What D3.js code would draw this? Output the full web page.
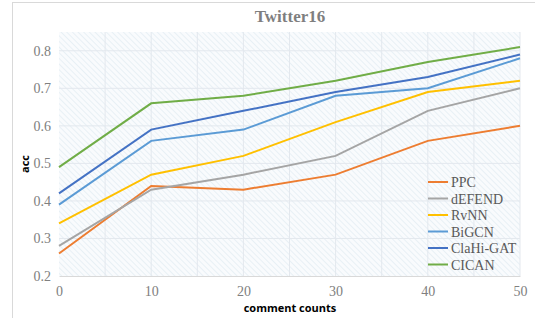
<!DOCTYPE html>
<html>
<head>
<meta charset="utf-8">
<script src="https://cdn.jsdelivr.net/npm/d3@7"></script>
<style>
  body { margin: 0; background: #fff; }
</style>
</head>
<body>
<div class="chartContainer"></div>
<script>
// comment counts on the x axis
const counts = [0, 10, 20, 30, 40, 50];
const ppc = [0.26, 0.44, 0.43, 0.47, 0.56, 0.60];
const defend = [0.28, 0.43, 0.47, 0.52, 0.64, 0.70];
const rvnn = [0.34, 0.47, 0.52, 0.61, 0.69, 0.72];
const bigcn = [0.39, 0.56, 0.59, 0.68, 0.70, 0.78];
const clahigat = [0.42, 0.59, 0.64, 0.69, 0.73, 0.79];
const cican = [0.49, 0.66, 0.68, 0.72, 0.77, 0.81];
const seriesNames = ["PPC", "dEFEND", "RvNN", "BiGCN", "ClaHi-GAT", "CICAN"];
const yTicks = [0.2, 0.3, 0.4, 0.5, 0.6, 0.7, 0.8];

function drawChart() {
  const w = 535,
    h = 318;

  const series = [ppc, defend, rvnn, bigcn, clahigat, cican];
  const colors = ["#ED7D31", "#A5A5A5", "#FFC000", "#5B9BD5", "#4472C4", "#70AD47"];

  const x = d3.scaleLinear().domain([0, 50]).range([59, 520]);
  const y = d3.scaleLinear().domain([0.2, 0.85]).range([276, 32]);

  const svg = d3.select(".chartContainer")
    .append("svg")
    .attr("width", w)
    .attr("height", h);

  // hatch pattern for plot background
  const pat = svg.append("defs").append("pattern")
    .attr("id", "hatch")
    .attr("patternUnits", "userSpaceOnUse")
    .attr("width", 4)
    .attr("height", 4)
    .attr("patternTransform", "rotate(-45)");
  pat.append("rect").attr("width", 4).attr("height", 4).attr("fill", "#f9fbfd");
  pat.append("line")
    .attr("x1", 0).attr("y1", 0).attr("x2", 0).attr("y2", 4)
    .attr("stroke", "#e0eaf2")
    .attr("stroke-width", 1.3);

  // outer frame
  svg.append("rect")
    .attr("x", 12.5).attr("y", 2.5)
    .attr("width", 530).attr("height", 330)
    .attr("fill", "none")
    .attr("stroke", "#d9d9d9");

  svg.append("rect")
    .attr("x", x(0)).attr("y", y(0.85))
    .attr("width", x(50) - x(0))
    .attr("height", y(0.2) - y(0.85))
    .attr("fill", "url(#hatch)");

  // grid
  svg.append("g")
    .selectAll("line")
    .data(d3.range(5, 51, 5))
    .enter()
    .append("line")
    .attr("x1", d => x(d)).attr("x2", d => x(d))
    .attr("y1", y(0.85)).attr("y2", y(0.2))
    .attr("stroke", "#e3e8ee")
    .attr("stroke-width", 1);

  svg.append("g")
    .selectAll("line")
    .data(yTicks.slice(1))
    .enter()
    .append("line")
    .attr("x1", x(0)).attr("x2", x(50))
    .attr("y1", d => y(d)).attr("y2", d => y(d))
    .attr("stroke", "#e3e8ee")
    .attr("stroke-width", 1);

  // axes
  const xAxis = d3.axisBottom(x).tickValues(counts).tickSize(0).tickPadding(10);
  const yAxis = d3.axisLeft(y).tickValues(yTicks).tickSize(0).tickPadding(8)
    .tickFormat(d3.format(".1f"));

  const gx = svg.append("g")
    .attr("transform", `translate(0,${y(0.2)})`)
    .call(xAxis);
  const gy = svg.append("g")
    .attr("transform", `translate(${x(0)},0)`)
    .call(yAxis);

  gx.select(".domain").attr("stroke", "#d9d9d9");
  gy.select(".domain").remove();
  svg.selectAll(".tick text")
    .attr("font-family", "'Liberation Serif', 'Times New Roman', serif")
    .attr("font-size", 14)
    .attr("fill", "#808080");

  // lines
  const line = d3.line()
    .x((d, i) => x(counts[i]))
    .y(d => y(d));

  svg.append("g")
    .selectAll("path")
    .data(series)
    .enter()
    .append("path")
    .attr("d", d => line(d))
    .attr("fill", "none")
    .attr("stroke", (d, i) => colors[i])
    .attr("stroke-width", 2);

  // legend
  const legend = svg.append("g")
    .selectAll("g")
    .data(seriesNames)
    .enter()
    .append("g")
    .attr("transform", (d, i) => `translate(428,${182 + i * 16.5})`);

  legend.append("line")
    .attr("x1", 0).attr("x2", 20)
    .attr("stroke", (d, i) => colors[i])
    .attr("stroke-width", 2);

  legend.append("text")
    .attr("x", 23)
    .attr("y", 5)
    .attr("font-family", "'Liberation Serif', 'Times New Roman', serif")
    .attr("font-size", 14)
    .attr("fill", "#595959")
    .text(d => d);

  // titles
  svg.append("text")
    .attr("x", 290).attr("y", 22)
    .attr("text-anchor", "middle")
    .attr("font-family", "'Liberation Serif', 'Times New Roman', serif")
    .attr("font-weight", "bold")
    .attr("font-size", 17)
    .attr("fill", "#7f7f7f")
    .text("Twitter16");

  svg.append("text")
    .attr("x", 290).attr("y", 312)
    .attr("text-anchor", "middle")
    .attr("font-family", "'Open Sans', sans-serif")
    .attr("font-weight", "bold")
    .attr("font-size", 11)
    .attr("fill", "#000")
    .text("comment counts");

  svg.append("text")
    .attr("transform", "translate(29,164) rotate(-90)")
    .attr("text-anchor", "middle")
    .attr("font-family", "'Open Sans', sans-serif")
    .attr("font-weight", "bold")
    .attr("font-size", 11)
    .attr("fill", "#000")
    .text("acc");
}

drawChart();
</script>
</body>
</html>
